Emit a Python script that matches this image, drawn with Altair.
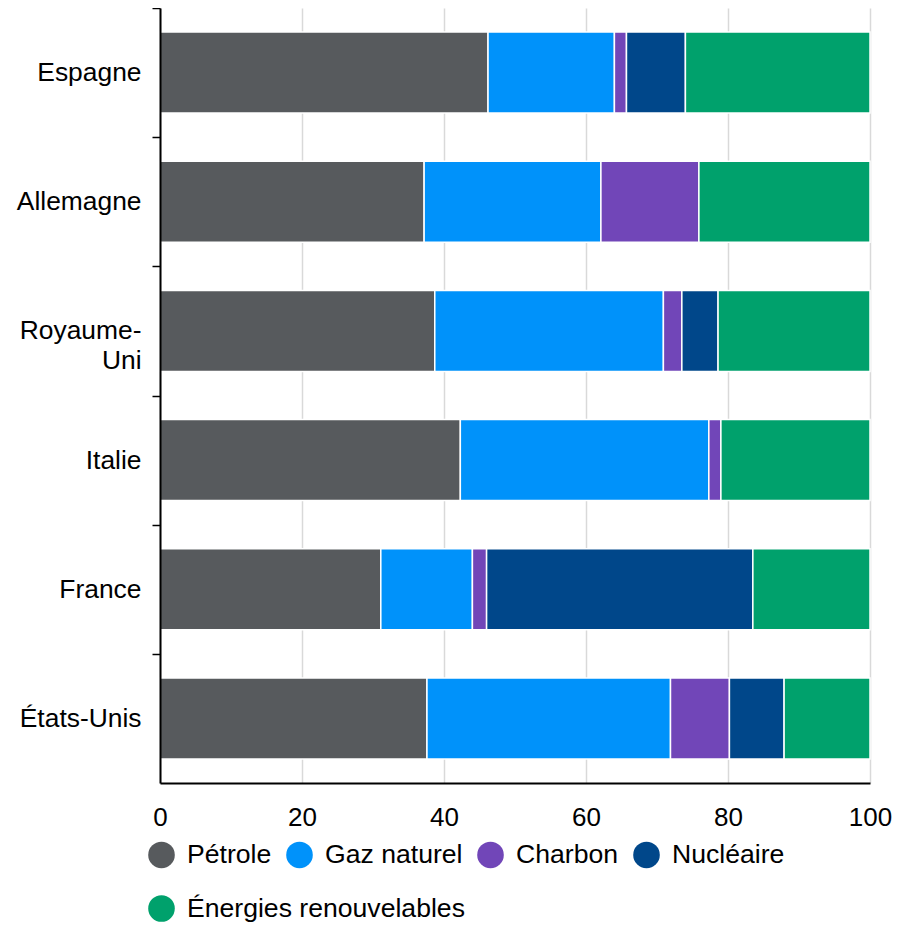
import altair as alt
import pandas as pd

countries = ["Espagne", "Allemagne", "Royaume-Uni", "Italie", "France", "États-Unis"]
sources = ["Pétrole", "Gaz naturel", "Charbon", "Nucléaire", "Énergies renouvelables"]
petrole = [46.2, 37.2, 38.7, 42.3, 31.1, 37.6]
gaz = [17.8, 24.9, 32.2, 35.0, 12.9, 34.3]
charbon = [1.7, 13.8, 2.6, 1.7, 2.0, 8.3]
nucleaire = [8.3, 0.0, 5.1, 0.0, 37.5, 7.7]
renouvelables = [26.0, 24.1, 21.4, 21.0, 16.5, 12.1]
colors = ["#575A5D", "#0092FA", "#7146B8", "#00478A", "#00A16C"]
x_ticks = [0, 20, 40, 60, 80, 100]

series = [petrole, gaz, charbon, nucleaire, renouvelables]
rows = []
for i, c in enumerate(countries):
    for j, s in enumerate(sources):
        rows.append({"pays": c, "source": s, "valeur": series[j][i], "ordre": j})
df = pd.DataFrame(rows)

FONT = "Liberation Sans"
STEP = 775 / len(countries)

x_axis = alt.Axis(
    values=x_ticks, title=None, ticks=False, labelPadding=21, labelFlush=False,
    grid=True, gridColor="#d9d9d9", gridWidth=1.5,
    domainColor="black", domainWidth=2,
    labelFontSize=26, labelColor="black", labelFont=FONT,
)
y_axis = alt.Axis(
    title=None, tickOffset=-STEP / 2, labelOffset=STEP / 2, tickSize=8,
    tickColor="black", tickWidth=1.5, domainColor="black", domainWidth=2,
    zindex=1,
    labelPadding=11, labelFontSize=26.4, labelColor="black", labelFont=FONT,
    labelExpr="datum.value == 'Royaume-Uni' ? ['Royaume-', 'Uni'] : datum.value",
    labelLineHeight=30, grid=False,
)
y_scale = alt.Scale(paddingInner=0.373, paddingOuter=0.1865)


def legend(y):
    return alt.Legend(
        title=None, orient="none", legendX=-12, legendY=y,
        direction="horizontal",
        symbolType="circle", symbolSize=707, symbolStrokeWidth=0,
        symbolOpacity=1,
        labelFontSize=26.6, labelOffset=12, columnPadding=14,
        labelColor="black", labelFont=FONT, labelLimit=0,
    )


base = alt.Chart(df).transform_stack(
    stack="valeur", as_=["debut", "fin"], groupby=["pays"],
    sort=[alt.SortField("ordre", order="ascending")],
).transform_filter("datum.valeur > 0")

main = base.transform_filter("datum.ordre < 4").mark_bar(
    stroke="white", strokeWidth=1.5
).encode(
    x=alt.X("debut:Q", scale=alt.Scale(domain=[0, 100], nice=False), axis=x_axis),
    x2="fin:Q",
    y=alt.Y("pays:N", sort=countries, scale=y_scale, axis=y_axis),
    color=alt.Color(
        "source:N", sort=sources[:4],
        scale=alt.Scale(domain=sources[:4], range=colors[:4]),
        legend=legend(833),
    ),
)

renew = base.transform_filter("datum.ordre == 4").mark_bar(
    stroke="white", strokeWidth=1.5
).encode(
    x=alt.X("debut:Q", scale=alt.Scale(domain=[0, 100], nice=False), axis=x_axis),
    x2="fin:Q",
    y=alt.Y("pays:N", sort=countries, scale=y_scale, axis=y_axis),
    color=alt.Color(
        "source:N",
        scale=alt.Scale(domain=sources[4:], range=colors[4:]),
        legend=legend(887),
    ),
)

chart = alt.layer(main, renew).resolve_scale(color="independent").properties(
    width=710,
    height=775,
    autosize=alt.AutoSizeParams(type="none"),
    padding={"left": 152, "top": 0, "right": 35, "bottom": 144},
).configure_view(stroke=None)

chart.save("out.html", embed_options={"renderer": "svg", "actions": False})
